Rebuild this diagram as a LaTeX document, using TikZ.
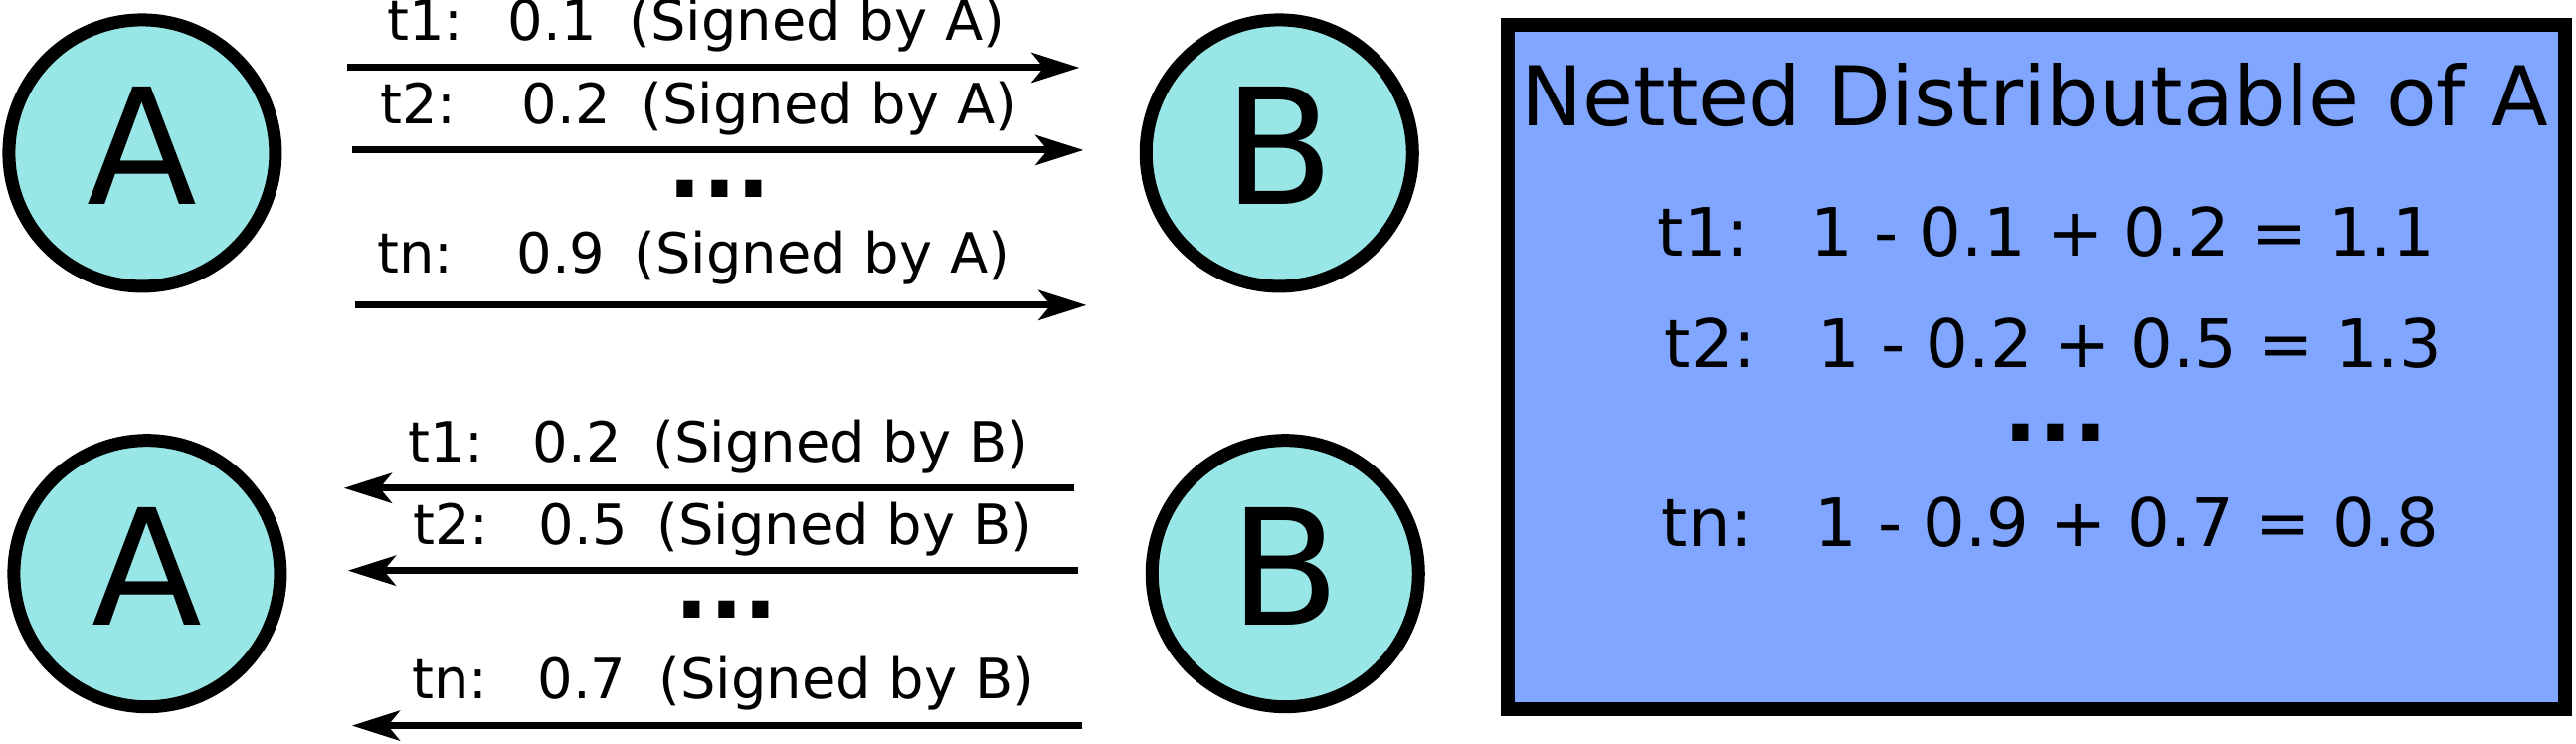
\documentclass[tikz,border=0pt]{standalone}
\usepackage{fontspec}
\setmainfont{DejaVu Sans}
\usetikzlibrary{arrows.meta}
\definecolor{cyanfill}{HTML}{99E6E6}
\definecolor{boxfill}{HTML}{80A6FF}
\tikzset{
  party/.style={circle, draw=black, line width=0.13cm, fill=cyanfill,
    minimum size=2.68cm, inner sep=0pt, text height=1.18cm, text depth=0.14cm,
    font=\fontsize{46.1}{50}\selectfont},
  msg/.style={line width=0.07cm, -{Stealth[length=0.48cm,width=0.30cm,inset=0.12cm]}},
  msgtext/.style={anchor=base west, inner sep=0pt, font=\fontsize{15.9}{18}\selectfont},
  dotstext/.style={anchor=base, inner sep=0pt, text height=0.18cm, text depth=0pt,
    font=\fontsize{26}{30}\selectfont\bfseries},
  netbox/.style={draw=black, line width=0.14cm, fill=boxfill, rectangle,
    minimum width=10.63cm, minimum height=6.88cm, inner sep=0pt},
  titletext/.style={anchor=base, inner sep=0pt, font=\fontsize{23.6}{28}\selectfont},
  calctext/.style={anchor=base west, inner sep=0pt, font=\fontsize{19.1}{23}\selectfont},
}
\begin{document}
\begin{tikzpicture}
\useasboundingbox (0,0) rectangle (25.90,-7.47);
\begin{scope}[x=0.01cm, y=-0.01cm]
  % parties
  \node[party] (A1) at (143,154) {A};
  \node[party] (B1) at (1287,154) {B};
  \node[party] (A2) at (148,577) {A};
  \node[party] (B2) at (1293,577) {B};

  % arrow end points
  \coordinate (s1) at (349,68);  \coordinate (e1) at (1086,68);
  \coordinate (s2) at (354,151); \coordinate (e2) at (1090,151);
  \coordinate (s3) at (357,307); \coordinate (e3) at (1093,307);
  \coordinate (r1) at (1081,491); \coordinate (f1) at (346,491);
  \coordinate (r2) at (1085,574); \coordinate (f2) at (350,574);
  \coordinate (r3) at (1089,730); \coordinate (f3) at (354,730);

  \draw[msg] (s1) -- (e1);
  \draw[msg] (s2) -- (e2);
  \draw[msg] (s3) -- (e3);
  \draw[msg] (r1) -- (f1);
  \draw[msg] (r2) -- (f2);
  \draw[msg] (r3) -- (f3);

  % top labels
  \node[msgtext] (la1) at (389,41) {t1:\hspace{0.45cm}0.1\hspace{0.33cm}(Signed by A)};
  \node[msgtext] (la2) at (382,125) {t2:\hspace{0.66cm}0.2\hspace{0.31cm}(Signed by A)};
  \node[dotstext] (lad) at (724,199) {...};
  \node[msgtext] (la3) at (379,275) {tn:\hspace{0.64cm}0.9\hspace{0.29cm}(Signed by A)};

  % bottom labels
  \node[msgtext] (lb1) at (410,465) {t1:\hspace{0.49cm}0.2\hspace{0.32cm}(Signed by B)};
  \node[msgtext] (lb2) at (415,548) {t2:\hspace{0.50cm}0.5\hspace{0.30cm}(Signed by B)};
  \node[dotstext] (lbd) at (731,622) {...};
  \node[msgtext] (lb3) at (414,703) {tn:\hspace{0.50cm}0.7\hspace{0.33cm}(Signed by B)};

  % netted box
  \node[netbox] (box) at (2048.5,369) {};
  \node[titletext] (title) at (2047,127) {Netted Distributable of A};
  \node[calctext] (c1) at (1667,258) {t1:\hspace{0.62cm}1 - 0.1 + 0.2 = 1.1};
  \node[calctext] (c2) at (1674,370) {t2:\hspace{0.62cm}1 - 0.2 + 0.5 = 1.3};
  \node[dotstext] (cd) at (2068,444) {...};
  \node[calctext] (c3) at (1671,550) {tn:\hspace{0.62cm}1 - 0.9 + 0.7 = 0.8};
\end{scope}
\end{tikzpicture}
\end{document}
